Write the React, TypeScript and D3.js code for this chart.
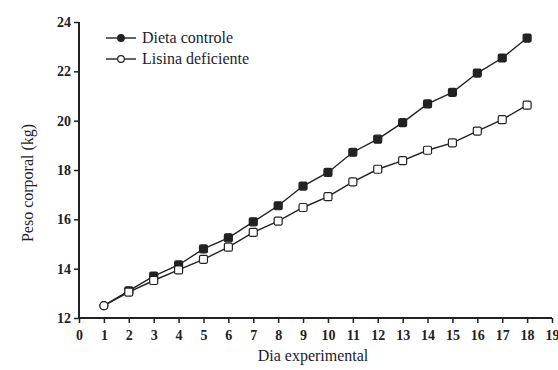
import React, { useEffect, useRef } from "react";
import * as d3 from "d3";

// days on the x axis
const days = [1, 2, 3, 4, 5, 6, 7, 8, 9, 10, 11, 12, 13, 14, 15, 16, 17, 18];
// Dieta controle (filled markers)
const controle = [12.5, 13.1, 13.7, 14.15, 14.8, 15.25, 15.9, 16.55, 17.35, 17.9, 18.72, 19.25, 19.92, 20.68, 21.15, 21.93, 22.54, 23.35];
// Lisina deficiente (open markers)
const deficiente = [12.5, 13.05, 13.52, 13.95, 14.38, 14.87, 15.47, 15.93, 16.48, 16.92, 17.52, 18.03, 18.38, 18.8, 19.1, 19.58, 20.04, 20.63];
const xTicks = d3.range(0, 20);
const yTicks = [12, 14, 16, 18, 20, 22, 24];
const seriesNames = ["Dieta controle", "Lisina deficiente"];

export default function App() {
  const ref = useRef<SVGSVGElement>(null);

  useEffect(() => {
    const svg = d3.select(ref.current);
    svg.selectAll("*").remove();

    const ink = "#222";
    const font = "Times New Roman, Liberation Serif, serif";

    const x = d3.scaleLinear().domain([0, 19]).range([79, 552]);
    const y = d3.scaleLinear().domain([12, 24]).range([318, 22]);

    // axes
    const xAxis = svg.append("g")
      .attr("transform", `translate(0, ${y(12)})`)
      .call(d3.axisBottom(x).tickValues(xTicks).tickSize(5).tickPadding(7).tickFormat(d3.format("d")));
    const yAxis = svg.append("g")
      .attr("transform", `translate(${x(0)}, 0)`)
      .call(d3.axisLeft(y).tickValues(yTicks).tickSize(5).tickPadding(3).tickFormat(d3.format("d")));

    for (const ax of [xAxis, yAxis]) {
      ax.attr("font-family", font);
      ax.select(".domain").attr("stroke", ink).attr("stroke-width", 2);
      ax.selectAll(".tick line").attr("stroke", ink).attr("stroke-width", 1.5);
      ax.selectAll(".tick text")
        .attr("fill", ink)
        .attr("font-family", font)
        .attr("font-size", 14)
        .attr("font-weight", "bold");
    }
    // axis lines without end caps
    xAxis.select(".domain").attr("d", `M${x(0)},0H${x(19)}`);
    yAxis.select(".domain").attr("d", `M0,${y(12)}V${y(24)}`);

    const line = d3.line<number>()
      .x((d, i) => x(days[i]))
      .y(d => y(d));

    const drawSeries = (vals: number[], fill: string) => {
      svg.append("path")
        .datum(vals)
        .attr("d", line)
        .attr("fill", "none")
        .attr("stroke", ink)
        .attr("stroke-width", 1.4);
      svg.append("g").selectAll("rect")
        .data(vals)
        .join("rect")
        .attr("x", (d, i) => x(days[i]) - 4)
        .attr("y", d => y(d) - 4)
        .attr("width", 8)
        .attr("height", 8)
        .attr("rx", (d, i) => (i === 0 ? 4 : 1.5))
        .attr("fill", fill)
        .attr("stroke", ink)
        .attr("stroke-width", 1.2);
    };
    drawSeries(controle, ink);
    drawSeries(deficiente, "#fff");

    // legend
    const legend = svg.append("g");
    seriesNames.forEach((name, i) => {
      const ly = 38 + i * 21;
      legend.append("line")
        .attr("x1", 106).attr("x2", 136)
        .attr("y1", ly).attr("y2", ly)
        .attr("stroke", ink).attr("stroke-width", 1.4);
      legend.append("circle")
        .attr("cx", 121).attr("cy", ly).attr("r", 3.3)
        .attr("fill", i === 0 ? ink : "#fff")
        .attr("stroke", ink).attr("stroke-width", 1.2);
      legend.append("text")
        .attr("x", 142).attr("y", ly + 5)
        .attr("fill", "#1c1c2e")
        .attr("font-family", font)
        .attr("font-size", 16)
        .text(name);
    });

    // axis titles
    svg.append("text")
      .attr("x", 313).attr("y", 361)
      .attr("text-anchor", "middle")
      .attr("fill", "#1c1c2e")
      .attr("font-family", font)
      .attr("font-size", 16)
      .text("Dia experimental");
    svg.append("text")
      .attr("transform", "translate(33, 183) rotate(-90)")
      .attr("text-anchor", "middle")
      .attr("fill", "#1c1c2e")
      .attr("font-family", font)
      .attr("font-size", 16)
      .text("Peso corporal (kg)");
  }, []);

  return (
    <svg
      ref={ref}
      width={558}
      height={370}
      style={{ position: "absolute", left: 0, top: 0, background: "#fff" }}
    />
  );
}
